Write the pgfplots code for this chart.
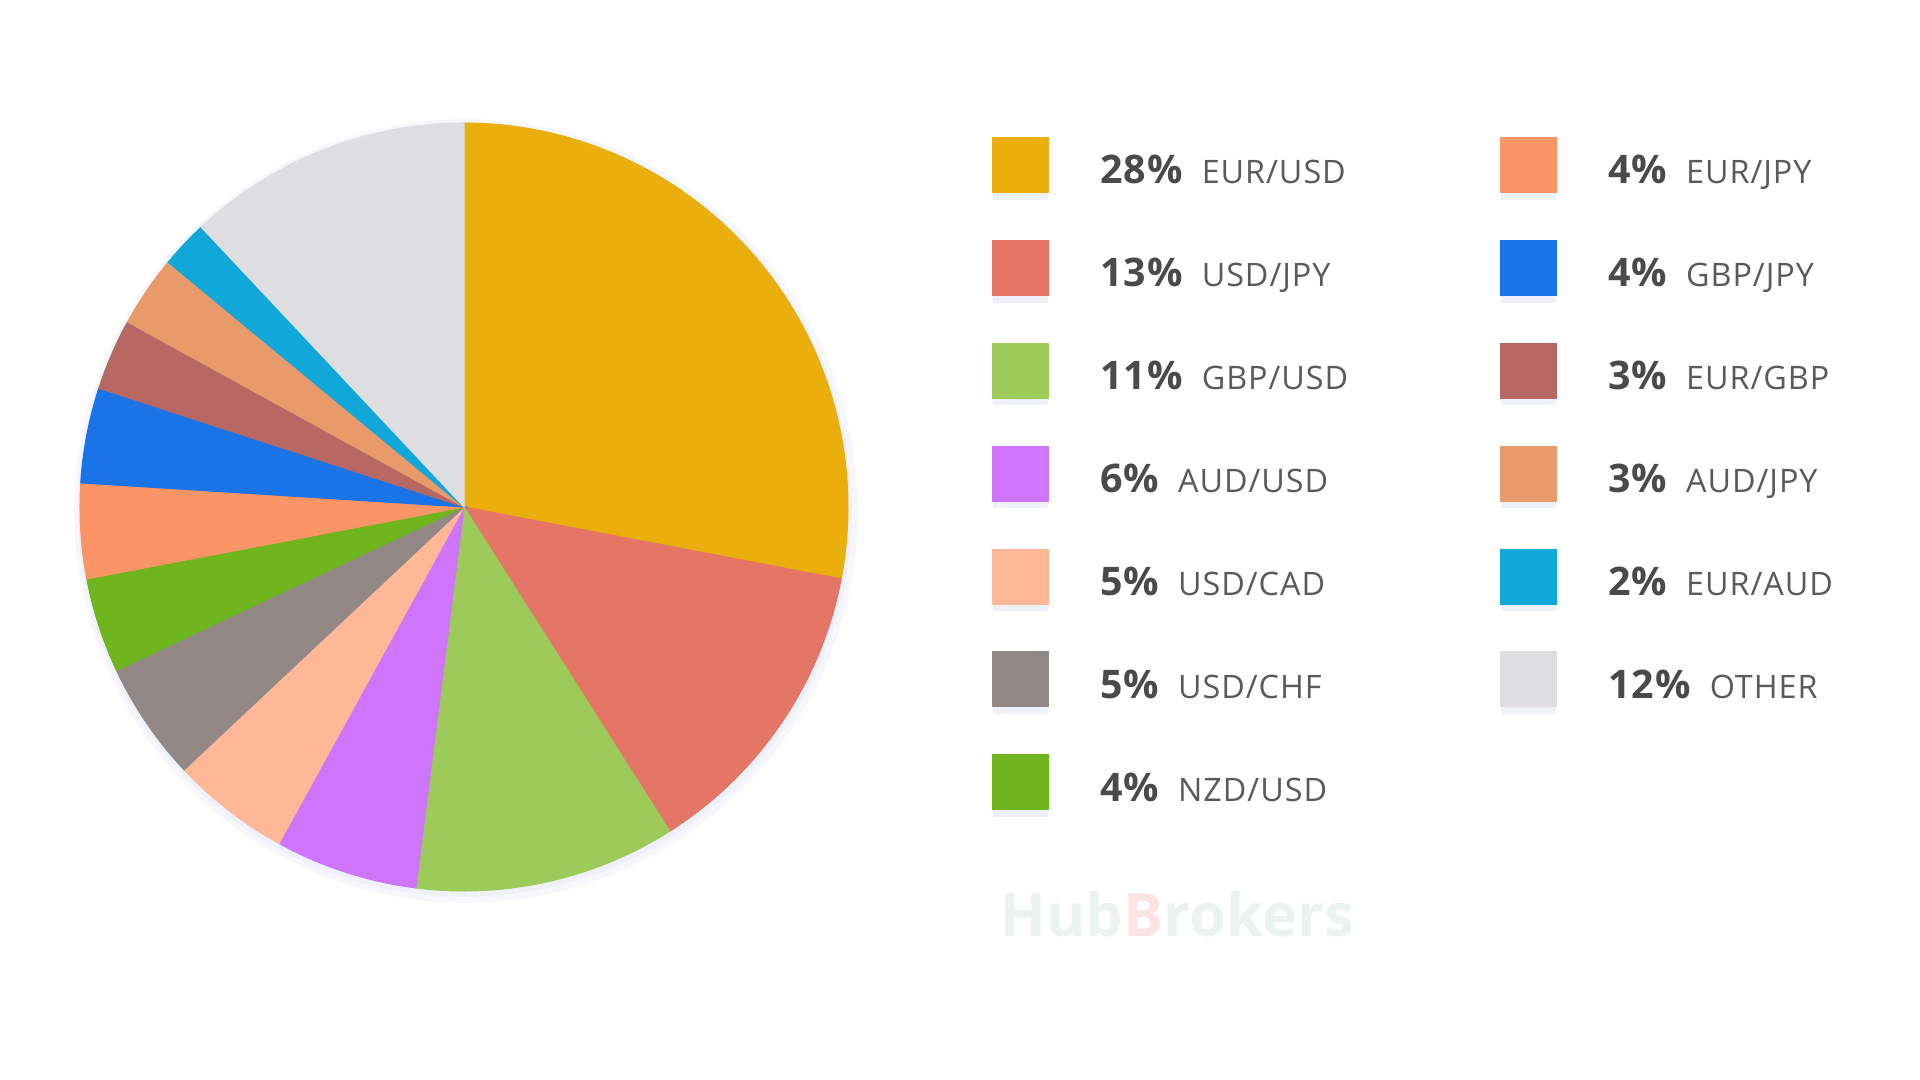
\documentclass[border=0pt]{standalone}
\usepackage{pgfplots}
\pgfplotsset{compat=1.18}
\usepackage{pgfplotstable}
\usepackage{fontspec}
\setmainfont{Open Sans}

\definecolor{cEURUSD}{HTML}{EAAF0C}
\definecolor{cUSDJPY}{HTML}{E57564}
\definecolor{cGBPUSD}{HTML}{9CCB5A}
\definecolor{cAUDUSD}{HTML}{CF75FC}
\definecolor{cUSDCAD}{HTML}{FEB898}
\definecolor{cUSDCHF}{HTML}{928986}
\definecolor{cNZDUSD}{HTML}{6EB51E}
\definecolor{cEURJPY}{HTML}{FC9566}
\definecolor{cGBPJPY}{HTML}{1B73E8}
\definecolor{cEURGBP}{HTML}{B86862}
\definecolor{cAUDJPY}{HTML}{E89A6B}
\definecolor{cEURAUD}{HTML}{0FA8D8}
\definecolor{cOTHER}{HTML}{DEDEE0}
\definecolor{pcttext}{HTML}{4A4A4A}
\definecolor{nametext}{HTML}{5A5A5A}
\definecolor{shadowA}{HTML}{F6F7FD}
\definecolor{shadowB}{HTML}{EEF0FA}
\definecolor{wmgreen}{HTML}{EAF3EE}
\definecolor{wmpink}{HTML}{FBE3E3}

% share of each currency pair (%), in pie order (clockwise from 12 o'clock)
\pgfplotstableread{
pct col
28 cEURUSD
13 cUSDJPY
11 cGBPUSD
6 cAUDUSD
5 cUSDCAD
5 cUSDCHF
4 cNZDUSD
4 cEURJPY
4 cGBPJPY
3 cEURGBP
3 cAUDJPY
2 cEURAUD
12 cOTHER
}\piedata

\newcommand\entry[2]{{\fontsize{11.2pt}{12pt}\selectfont\bfseries\addfontfeatures{LetterSpace=3}\color{pcttext}#1}\hspace{0.19cm}{\fontsize{9.2pt}{10pt}\selectfont\addfontfeatures{LetterSpace=3}\color{nametext}#2}}
\newcommand\entL[2]{\makebox[4cm][l]{\entry{#1}{#2}}}

\begin{document}
\begin{tikzpicture}
\begin{axis}[
  width=19.2cm, height=10.8cm, scale only axis,
  xmin=0, xmax=1920, ymin=0, ymax=1080,
  hide axis, clip=false,
  legend columns=2,
  legend cell align=left,
  legend image code/.code={%
    \fill[shadowB, overlay] (0.02cm,-0.29cm) rectangle (0.55cm,0.27cm);
    \fill[#1, draw=none] (0cm,-0.23cm) rectangle (0.57cm,0.33cm);},
  legend style={
    at={(axis cs:992,943)}, anchor=north west,
    draw=none, fill=none, inner sep=0pt, outer sep=0pt,
    row sep=0.469cm,
    nodes={inner sep=0pt, text height=0.30cm, text depth=0.02cm},
    /tikz/every odd column/.append style={column sep=0.51cm},
    /tikz/every even column/.append style={column sep=0cm},
  },
]
\addplot[draw=none, forget plot] coordinates {(0,0) (1920,1080)};
% soft shadow behind the pie
\addplot[fill=shadowA, draw=none, forget plot, domain=0:360, samples=120] ({466+392*cos(x)},{569+392*sin(x)});
\addplot[fill=shadowB, draw=none, forget plot, domain=0:360, samples=120] ({465+387*cos(x)},{570+387*sin(x)});

\pgfmathsetmacro\cumang{90}
\pgfplotsforeachungrouped \i in {0,...,12}{%
  \pgfplotstablegetelem{\i}{pct}\of\piedata \let\slicepct=\pgfplotsretval
  \pgfplotstablegetelem{\i}{col}\of\piedata \let\slicecol=\pgfplotsretval
  \pgfmathsetmacro\sliceend{\cumang-3.6*\slicepct}%
  \edef\temp{\noexpand\addplot[fill=\slicecol, draw=\slicecol, line width=0.3pt, forget plot, domain=\sliceend:\cumang, samples=60] ({464+384*cos(x)},{573+384*sin(x)}) -- (axis cs:464,573) -- cycle;}%
  \temp
  \global\let\cumang\sliceend
}

\addlegendimage{fill=cEURUSD}\addlegendentry{\entL{28\%}{EUR/USD}}
\addlegendimage{fill=cEURJPY}\addlegendentry{\entry{4\%}{EUR/JPY}}
\addlegendimage{fill=cUSDJPY}\addlegendentry{\entL{13\%}{USD/JPY}}
\addlegendimage{fill=cGBPJPY}\addlegendentry{\entry{4\%}{GBP/JPY}}
\addlegendimage{fill=cGBPUSD}\addlegendentry{\entL{11\%}{GBP/USD}}
\addlegendimage{fill=cEURGBP}\addlegendentry{\entry{3\%}{EUR/GBP}}
\addlegendimage{fill=cAUDUSD}\addlegendentry{\entL{6\%}{AUD/USD}}
\addlegendimage{fill=cAUDJPY}\addlegendentry{\entry{3\%}{AUD/JPY}}
\addlegendimage{fill=cUSDCAD}\addlegendentry{\entL{5\%}{USD/CAD}}
\addlegendimage{fill=cEURAUD}\addlegendentry{\entry{2\%}{EUR/AUD}}
\addlegendimage{fill=cUSDCHF}\addlegendentry{\entL{5\%}{USD/CHF}}
\addlegendimage{fill=cOTHER}\addlegendentry{\entry{12\%}{OTHER}}
\addlegendimage{fill=cNZDUSD}\addlegendentry{\entL{4\%}{NZD/USD}}

\node[font=\fontsize{17pt}{18pt}\selectfont\bfseries, text=wmgreen, anchor=base west, inner sep=0pt] at (axis cs:1000,143) {Hub\textcolor{wmpink}{B}rokers};
\end{axis}
\end{tikzpicture}
\end{document}
